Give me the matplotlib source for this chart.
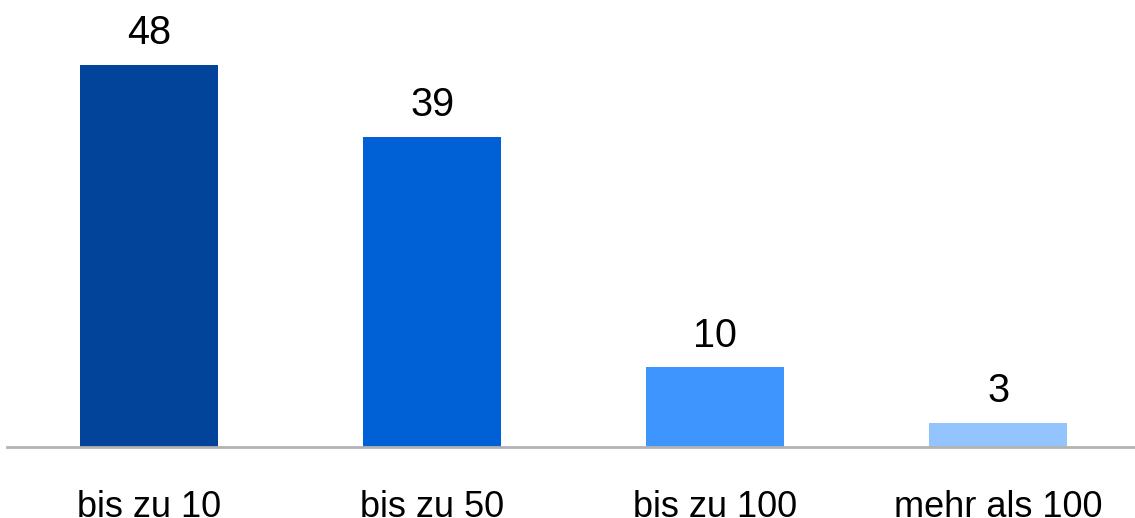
import matplotlib
matplotlib.use("Agg")
import matplotlib.pyplot as plt

categories = ["bis zu 10", "bis zu 50", "bis zu 100", "mehr als 100"]
values = [48, 39, 10, 3]
colors = ["#02449A", "#0061D6", "#3D95FD", "#93C4FD"]

plt.rcParams['font.family'] = ['Liberation Sans', 'DejaVu Sans']

fig = plt.figure(figsize=(11.35, 5.18), dpi=100)
ax = fig.add_axes([7/1135, 71/518, 1 - 7/1135, 447/518])

x = list(range(len(categories)))
bars = ax.bar(x, values, width=0.49, color=colors)
for xi, v in zip(x, values):
    ax.annotate(str(v), (xi, v), xytext=(0, 15), textcoords="offset points",
                ha="center", va="baseline", fontsize=28.5, color="black")

ax.set_xlim(-0.502, 3.484)
ax.set_ylim(0, 56.2)
ax.set_xticks(x)
ax.set_xticklabels(categories, fontsize=26)
ax.tick_params(axis="x", length=0, pad=31)
ax.set_yticks([])
for s in ["top", "right", "left"]:
    ax.spines[s].set_visible(False)
ax.spines["bottom"].set_color("#b3b3b3")
ax.spines["bottom"].set_linewidth(2)

fig.savefig("out.png", dpi=100)
